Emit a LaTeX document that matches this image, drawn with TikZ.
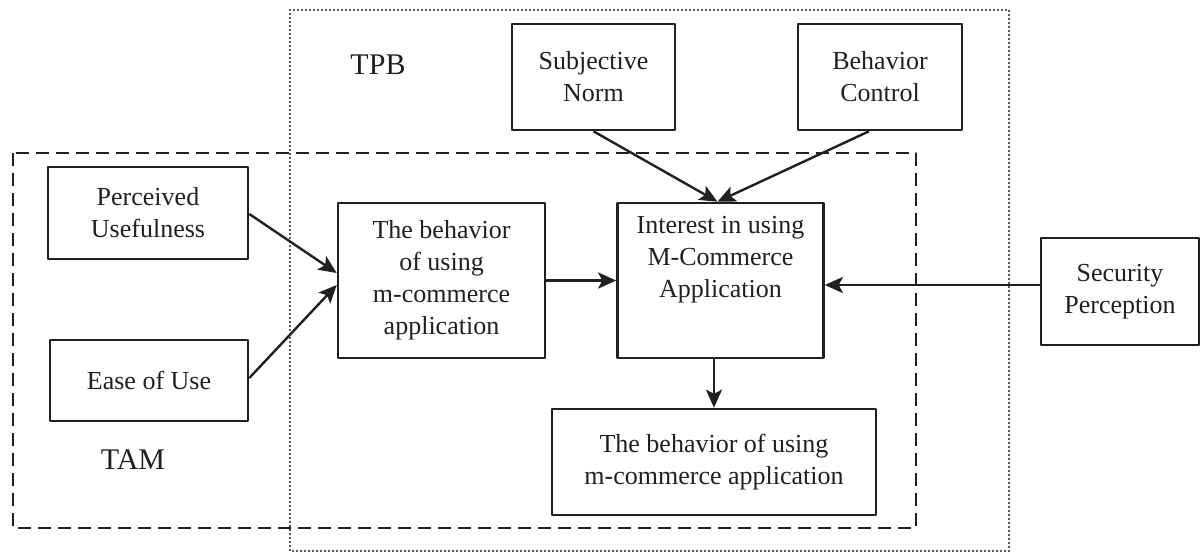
\documentclass[tikz,border=0pt]{standalone}
\usepackage{fontspec}
\setmainfont{Liberation Serif}
\usepackage{xcolor}
\usetikzlibrary{arrows.meta,calc}
\definecolor{ink}{HTML}{231F20}

\begin{document}
\begin{tikzpicture}[x=0.5pt,y=-0.5pt,>={Stealth[length=9pt,width=8pt,inset=2pt]},line join=round,color=ink,
  box/.style={draw,line width=1.3pt,inner sep=0pt,align=center,font=\fontsize{13pt}{16pt}\selectfont},
  link/.style={->,line width=1.2pt},
  tag/.style={inner sep=0pt,font=\fontsize{15pt}{18pt}\selectfont}]
  \useasboundingbox (0,0) rectangle (1201,553);
  \draw[line width=1.2pt,dash pattern=on 0pt off 2pt,line cap=round] (290,10) rectangle (1009,551);
  \draw[line width=1.1pt,dash pattern=on 6.5pt off 3.5pt] (13,153) rectangle (916,528);
  \node[box,minimum width=100pt,minimum height=46pt] (PU) at (148,213) {Perceived\\Usefulness};
  \node[box,minimum width=99pt,minimum height=40.5pt] (EU) at (149,380.5) {Ease of Use};
  \node[box,minimum width=103.5pt,minimum height=77.5pt] (BU) at (441.5,280.5) {The behavior\\of using\\m-commerce\\application};
  \node[box,minimum width=103pt,minimum height=77.5pt] (IU) at (720.5,280.5) {};
  \node[box,draw=none,anchor=north] (IUtext) at ($(IU.north)+(0,13)$) {Interest in using\\M-Commerce\\Application};
  \node[box,minimum width=81.5pt,minimum height=53pt] (SN) at (593.5,77) {Subjective\\Norm};
  \node[box,minimum width=82pt,minimum height=53pt] (BC) at (880,77) {Behavior\\Control};
  \node[box,minimum width=79pt,minimum height=53.5pt] (SP) at (1120,291.5) {Security\\Perception};
  \node[box,minimum width=162pt,minimum height=53pt] (BB) at (714,462) {The behavior of using\\m-commerce application};
  \node[tag] (TPB) at (378,65) {TPB};
  \node[tag] (TAM) at (133,460) {TAM};
  \draw[link] ($(PU.east)+(0,1)$) -- ($(BU.west)+(0,-7.5)$);
  \draw[link] ($(EU.east)+(0,-2.5)$) -- ($(BU.west)+(0,4.5)$);
  \draw[link] (BU.east) -- (IU.west|-BU.east);
  \draw[link] (SN.south) -- ($(IU.north)+(-3,0)$);
  \draw[link] ($(BC.south)+(-11,0)$) -- ($(IU.north)+(-3,0)$);
  \draw[link] ($(SP.west)+(0,-6.5)$) -- ($(IU.east)+(0,4.5)$);
  \draw[link] (IU.south-|BB.north) -- (BB.north);
\end{tikzpicture}
\end{document}
